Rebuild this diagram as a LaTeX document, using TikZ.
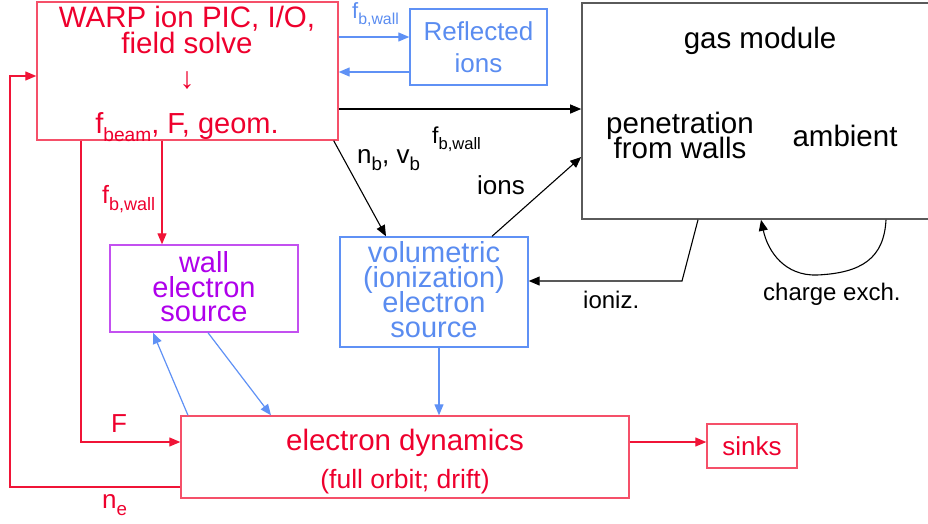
\documentclass[tikz,border=0pt]{standalone}
\usepackage{fontspec}
\setmainfont{Liberation Sans}
\usepackage{graphicx}
\usetikzlibrary{arrows.meta}
\definecolor{rtext}{RGB}{238,0,45}
\definecolor{rline}{RGB}{240,20,55}
\definecolor{rbox}{RGB}{245,80,105}
\definecolor{btext}{RGB}{90,140,240}
\definecolor{bline}{RGB}{95,145,245}
\definecolor{ptext}{RGB}{175,0,235}
\definecolor{pbox}{RGB}{195,80,240}
\definecolor{gbox}{RGB}{90,90,90}
\newcommand\lsub[2][0.72]{\raisebox{-0.28em}{\scalebox{#1}{#2}}}
\begin{document}
\begin{tikzpicture}[x=1pt,y=-1pt,
  boxed/.style={draw,line width=1.4pt,inner sep=0pt,rectangle},
  redbox/.style={boxed,draw=rbox},
  bluebox/.style={boxed,draw=bline},
  purpbox/.style={boxed,draw=pbox},
  graybox/.style={boxed,draw=gbox,line width=1.6pt},
  tip/.style={-{Triangle[length=11pt,width=9pt]}},
  redarrow/.style={tip,draw=rline,line width=1.2pt},
  bluearrow/.style={tip,draw=bline,line width=1.2pt},
  blackarrow/.style={tip,draw=black,line width=1.1pt},
  txt/.style={inner sep=0pt,anchor=base},
  big/.style={txt,font=\fontsize{29}{25}\selectfont,text height=0.7em,text depth=0pt},
  mid/.style={txt,font=\fontsize{26}{26}\selectfont},
  lbl/.style={txt,font=\fontsize{24}{24}\selectfont},
]
\useasboundingbox (0,0) rectangle (928,523);

% boxes
\node[redbox,minimum width=301pt,minimum height=138pt] (warp) at (187.5,71) {};
\node[bluebox,minimum width=137pt,minimum height=76pt] (refl) at (478.5,47) {};
\node[graybox,minimum width=349pt,minimum height=216pt] (gas) at (756.5,111) {};
\node[purpbox,minimum width=188pt,minimum height=87pt] (wall) at (204,288.5) {};
\node[bluebox,minimum width=188pt,minimum height=110pt] (vol) at (434,292) {};
\node[redbox,minimum width=448pt,minimum height=82pt] (edyn) at (405,457) {};
\node[redbox,minimum width=90pt,minimum height=44pt] (sinks) at (752,446) {};

% texts in boxes
\node[big,text=rtext,font=\fontsize{29.5}{25}\selectfont] (w1) at (187,27) {WARP ion PIC, I/O,};
\node[big,text=rtext,font=\fontsize{29.5}{25}\selectfont] (w2) at (187,53) {field solve};
\node[txt,text=rtext,font=\fontsize{30}{30}\selectfont] (w3) at (187,88) {↓};
\node[big,text=rtext] (w4) at (187,133) {f\lsub[0.66]{beam}, F, geom.};

\node[mid,text=btext] (r1) at (478.5,40) {Reflected};
\node[mid,text=btext] (r2) at (478.5,72) {ions};

\node[big,font=\fontsize{29.5}{25}\selectfont] (g1) at (760,48) {gas module};
\node[big,font=\fontsize{29.5}{25}\selectfont] (g2) at (680,133) {penetration};
\node[big,font=\fontsize{29.5}{25}\selectfont] (g3) at (680,158) {from walls};
\node[big,font=\fontsize{29.5}{25}\selectfont] (g4) at (845,146) {ambient};

\node[big,text=ptext] (p1) at (204,272) {wall};
\node[big,text=ptext] (p2) at (204,297) {electron};
\node[big,text=ptext] (p3) at (204,321) {source};

\node[big,text=btext] (v1) at (434,262) {volumetric};
\node[big,text=btext] (v2) at (434,287) {(ionization)};
\node[big,text=btext] (v3) at (434,312) {electron};
\node[big,text=btext] (v4) at (434,337) {source};

\node[big,text=rtext,font=\fontsize{29.5}{25}\selectfont] (e1) at (405,450) {electron dynamics};
\node[mid,text=rtext,font=\fontsize{26.5}{26}\selectfont] (e2) at (405,488) {(full orbit; drift)};

\node[mid,text=rtext] (s1) at (752,455) {sinks};

% connectors
\draw[bluearrow] (warp.east |- 0,37) -- (refl.west |- 0,37);
\draw[bluearrow] (refl.west |- 0,72) -- (warp.east |- 0,72);
\draw[blackarrow] (warp.east |- 0,109) -- (gas.west |- 0,109);
\draw[blackarrow] ([xshift=-5pt]warp.south east) -- (vol.north -| 386,0);
\draw[blackarrow] (vol.north -| 492,0) -- (gas.west |- 0,157);
\draw[blackarrow] (gas.south -| 698,0) -- (682,281) -- (vol.east |- 0,281);
\draw[blackarrow] (gas.south -| 886,0) .. controls (884,258) and (862,273) .. (817,275)
   .. controls (785,276) and (768,252) .. (gas.south -| 761,0);
\draw[redarrow] (warp.south -| 162,0) -- (wall.north -| 162,0);
\draw[redarrow] (warp.south -| 81,0) -- (81,442) -- (edyn.west |- 0,442);
\draw[redarrow] (edyn.west |- 0,487) -- (10,487) -- (10,76) -- (warp.west |- 0,76);
\draw[redarrow] (edyn.east |- 0,442) -- (sinks.west |- 0,442);
\draw[bluearrow] (vol.south -| 439,0) -- (edyn.north -| 439,0);
\draw[bluearrow] (edyn.north -| 188,0) -- (wall.south -| 153,0);
\draw[bluearrow] (wall.south -| 208,0) -- (edyn.north -| 271,0);

% connector labels
\node[txt,anchor=base west,text=btext,font=\fontsize{22}{22}\selectfont] (lf1) at (352,18) {f\lsub{b,wall}};
\node[txt,anchor=base west,font=\fontsize{23}{23}\selectfont] (lf2) at (432,143) {f\lsub{b,wall}};
\node[txt,anchor=base west,font=\fontsize{26}{26}\selectfont] (lnv) at (357,163) {n\lsub{b}, v\lsub{b}};
\node[txt,anchor=base west,font=\fontsize{26}{26}\selectfont] (lions) at (477,194) {ions};
\node[txt,anchor=base west,font=\fontsize{24}{24}\selectfont] (lioniz) at (583,308) {ioniz.};
\node[txt,anchor=base west,font=\fontsize{24}{24}\selectfont] (lcx) at (763,300) {charge exch.};
\node[txt,anchor=base west,text=rtext,font=\fontsize{25}{25}\selectfont] (lf3) at (102,203) {f\lsub{b,wall}};
\node[txt,anchor=base west,text=rtext,font=\fontsize{26}{26}\selectfont] (lF) at (111,432) {F};
\node[txt,anchor=base west,text=rtext,font=\fontsize{26}{26}\selectfont] (lne) at (102,508) {n\lsub{e}};
\end{tikzpicture}
\end{document}
